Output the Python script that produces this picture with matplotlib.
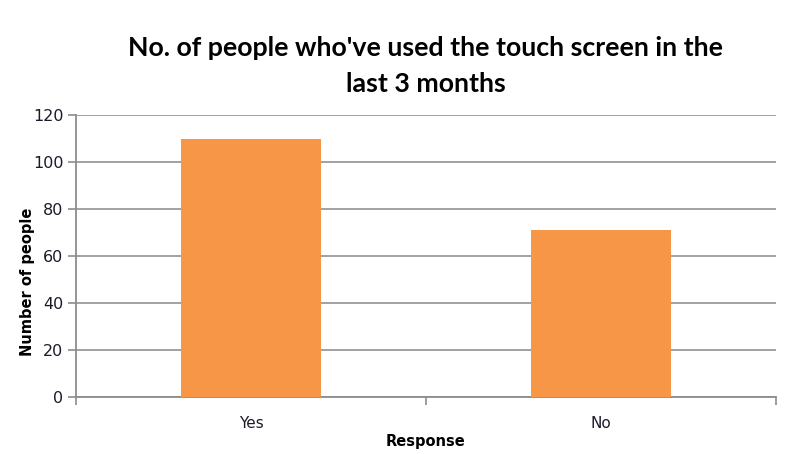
import matplotlib.pyplot as plt
import numpy as np

responses = ['Yes', 'No']
counts = [110, 71]
yticks = [0, 20, 40, 60, 80, 100, 120]

fig = plt.figure(figsize=(7.9, 4.54), dpi=100)
ax = fig.add_axes([76/790, 57/454, 700/790, 282/454])

x = np.arange(len(responses))
ax.bar(x, counts, width=0.4, color='#F79646', zorder=3)

ax.set_xlim(-0.5, len(responses) - 0.5)
ax.set_ylim(0, 120)
ax.set_yticks(yticks)
ax.set_xticks(x)
ax.set_xticklabels(responses)
# category boundary ticks like a spreadsheet chart
ax.set_xticks(np.arange(len(responses) + 1) - 0.5, minor=True)
ax.tick_params(axis='x', which='major', length=0, pad=14, labelsize=11, labelcolor='#1a1a2a')
ax.tick_params(axis='x', which='minor', length=6, color='#8c8c8c', width=1.2)
ax.tick_params(axis='y', length=6, color='#8c8c8c', width=1.2, labelsize=11.5, labelcolor='#1a1a2a', pad=3)

ax.grid(axis='y', color='#9a9a9a', linewidth=1.3, zorder=0)
for s in ['top', 'right']:
    ax.spines[s].set_visible(False)
for s in ['left', 'bottom']:
    ax.spines[s].set_color('#8c8c8c')
    ax.spines[s].set_linewidth(1.3)

ax.set_xlabel('Response', fontweight='bold', fontsize=10.5, labelpad=2)
fig.text(28/790, 1 - 282/454, 'Number of people', rotation=90, fontweight='bold',
         fontsize=10.5, ha='center', va='center')

fig.text(426/790, 1 - 48/454, "No. of people who've used the touch screen in the",
         family='Lato', fontweight='bold', fontsize=19.3, ha='center', va='center')
fig.text(426/790, 1 - 84/454, 'last 3 months',
         family='Lato', fontweight='bold', fontsize=19.3, ha='center', va='center')

fig.savefig('out.png', dpi=100)
